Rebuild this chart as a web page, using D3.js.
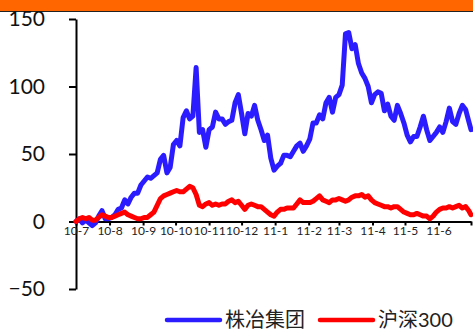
<!DOCTYPE html>
<html>
<head>
<meta charset="utf-8">
<script src="https://cdn.jsdelivr.net/npm/d3@7"></script>
<style>
  body { margin: 0; background: #fff; }
  svg { display: block; }
</style>
</head>
<body>
<div id="container"></div>
<script>
/* DATA */
const dates = [
  "2010-07-01","2010-07-04","2010-07-07","2010-07-10","2010-07-13","2010-07-16","2010-07-19","2010-07-22","2010-07-25","2010-07-28","2010-07-31",
  "2010-08-03","2010-08-06","2010-08-09","2010-08-12","2010-08-15","2010-08-18","2010-08-21","2010-08-24","2010-08-27","2010-08-30",
  "2010-09-02","2010-09-05","2010-09-08","2010-09-11","2010-09-14","2010-09-17","2010-09-20","2010-09-23","2010-09-26","2010-09-29",
  "2010-10-02","2010-10-05","2010-10-08","2010-10-11","2010-10-14","2010-10-17","2010-10-20","2010-10-23","2010-10-26","2010-10-29",
  "2010-11-01","2010-11-04","2010-11-07","2010-11-10","2010-11-13","2010-11-16","2010-11-19","2010-11-22","2010-11-25","2010-11-28",
  "2010-12-01","2010-12-04","2010-12-07","2010-12-10","2010-12-13","2010-12-16","2010-12-19","2010-12-22","2010-12-25","2010-12-28","2010-12-31",
  "2011-01-03","2011-01-06","2011-01-09","2011-01-12","2011-01-15","2011-01-18","2011-01-21","2011-01-24","2011-01-27","2011-01-30",
  "2011-02-02","2011-02-05","2011-02-08","2011-02-11","2011-02-14","2011-02-17","2011-02-20","2011-02-23","2011-02-26",
  "2011-03-01","2011-03-04","2011-03-07","2011-03-10","2011-03-13","2011-03-16","2011-03-19","2011-03-22","2011-03-25","2011-03-28","2011-03-31",
  "2011-04-03","2011-04-06","2011-04-09","2011-04-12","2011-04-15","2011-04-18","2011-04-21","2011-04-24","2011-04-27","2011-04-30",
  "2011-05-03","2011-05-06","2011-05-09","2011-05-12","2011-05-15","2011-05-18","2011-05-21","2011-05-24","2011-05-27","2011-05-30",
  "2011-06-02","2011-06-05","2011-06-08","2011-06-11","2011-06-14","2011-06-17","2011-06-20","2011-06-23","2011-06-26","2011-06-29","2011-07-01"
];

// 株冶集团 (%)
const zhuye = [
  0, 2, -1, 1, -1, -3, -1, 4, 8, 2, 2,
  3, 5, 9, 10, 16, 13, 18, 21, 21, 27,
  30, 33, 32, 34, 36, 46, 49, 36, 40, 57,
  60, 56, 77, 82, 76, 78, 114, 66, 68, 55,
  68, 70, 81, 76, 76, 72, 74, 75, 88, 94,
  80, 65, 80, 78, 86, 75, 68, 60, 64, 47, 38,
  41, 43, 49, 49, 48, 52, 56, 58, 52, 56,
  61, 73, 73, 79, 76, 88, 92, 81, 92,
  94, 101, 139, 140, 128, 131, 117, 110, 106, 100, 88,
  94, 96, 95, 82, 87, 78, 75, 86, 80, 73,
  64, 59, 63, 63, 70, 78, 68, 60, 63, 66,
  70, 66, 74, 84, 74, 72, 80, 86, 83, 74, 68
];

// 沪深300 (%)
const hs300 = [
  0, 2, 3, 2, 3, 1, 1, 3, 5, 4, 3,
  3, 4, 5, 6, 7, 5, 4, 3, 2, 2,
  3, 3, 5, 7, 12, 17, 19, 20, 21, 22,
  23, 22, 22, 24, 26, 25, 20, 12, 11, 13,
  14, 12, 13, 12, 13, 13, 15, 16, 14, 15,
  12, 9, 12, 13, 12, 11, 11, 9, 7, 5, 4,
  7, 9, 9, 10, 10, 10, 13, 16, 14, 14,
  14, 15, 17, 19, 16, 15, 14, 16, 16,
  17, 16, 15, 16, 18, 19, 19, 20, 18, 19, 16,
  14, 13, 12, 11, 11, 10, 11, 11, 9, 7,
  6, 5, 5, 6, 5, 4, 4, 2, 4, 7,
  9, 10, 10, 11, 10, 11, 12, 10, 11, 8, 5
];

const seriesNames = ["株冶集团", "沪深300"];
const seriesColors = ["#2b1cff", "#ff0000"];
const xLabels = ["10-7","10-8","10-9","10-10","10-11","10-12","11-1","11-2","11-3","11-4","11-5","11-6"];
const yTicks = [-50, 0, 50, 100, 150];

/* CONSTANTS */
const width = 473;
const height = 331;
const margin = { top: 19, left: 76, right: 2, bottom: 42 };

const parse = d3.timeParse("%Y-%m-%d");
const start = parse("2010-07-01");
const end = parse("2011-07-01");

/* SCALES */
const xScale = d3.scaleTime().domain([start, end]).range([margin.left, 471]);
const yScale = d3.scaleLinear().domain([-50, 150]).range([289, margin.top]);

/* SVG */
const svg = d3.select("#container")
  .append("svg")
  .attr("width", width)
  .attr("height", height);

// orange header bar
svg.append("rect")
  .attr("x", 0).attr("y", 0)
  .attr("width", width).attr("height", 11)
  .attr("fill", "#ff6600");
svg.append("line")
  .attr("x1", 0).attr("x2", width)
  .attr("y1", 11.5).attr("y2", 11.5)
  .attr("stroke", "#222")
  .attr("stroke-width", 1);

// Y AXIS
const yAxis = svg.append("g")
  .attr("transform", `translate(${margin.left},0)`)
  .call(d3.axisLeft(yScale).tickValues(yTicks).tickSize(7).tickSizeOuter(0).tickPadding(24));
yAxis.select(".domain").attr("stroke", "#000").attr("stroke-width", 2);
yAxis.selectAll(".tick line").attr("stroke", "#000").attr("stroke-width", 2);
yAxis.selectAll("text")
  .attr("font-family", "Lato, 'Noto Sans', sans-serif")
  .attr("font-size", 21)
  .attr("fill", "#111");

// X AXIS at zero
const monthTicks = d3.timeMonth.range(start, d3.timeDay.offset(end, 1));
const xAxis = svg.append("g")
  .attr("transform", `translate(0,${yScale(0)})`)
  .call(d3.axisBottom(xScale)
    .tickValues(monthTicks)
    .tickFormat((d, i) => xLabels[i] || "")
    .tickSize(4).tickSizeOuter(0).tickPadding(1));
xAxis.select(".domain").attr("stroke", "#000").attr("stroke-width", 2);
xAxis.selectAll(".tick line").attr("stroke", "#000").attr("stroke-width", 2);
xAxis.selectAll("text")
  .attr("font-family", "Lato, 'Noto Sans', sans-serif")
  .attr("font-size", 12)
  .attr("fill", "#222");

// LINES
const line = d3.line()
  .x((d) => xScale(d.date))
  .y((d) => yScale(d.value));

[zhuye, hs300].forEach((vals, k) => {
  const data = dates.map((s, i) => ({ date: parse(s), value: vals[i] }));
  svg.append("path")
    .datum(data)
    .attr("fill", "none")
    .attr("stroke", seriesColors[k])
    .attr("stroke-width", 5)
    .attr("stroke-linejoin", "round")
    .attr("stroke-linecap", "round")
    .attr("d", line);
});

// LEGEND
const legendX = [167, 320];
const legend = svg.selectAll(".legend")
  .data(seriesNames)
  .join("g")
  .attr("class", "legend")
  .attr("transform", (_, i) => `translate(${legendX[i]},320)`);
legend.append("line")
  .attr("x1", 0).attr("x2", 53)
  .attr("y1", 0).attr("y2", 0)
  .attr("stroke", (_, i) => seriesColors[i])
  .attr("stroke-width", 4.5)
  .attr("stroke-linecap", "round");
legend.append("text")
  .attr("x", 58)
  .attr("y", 7)
  .attr("font-family", "Lato, 'Noto Sans CJK SC', sans-serif")
  .attr("font-size", 20)
  .attr("fill", "#222")
  .text((d) => d);
</script>
</body>
</html>
